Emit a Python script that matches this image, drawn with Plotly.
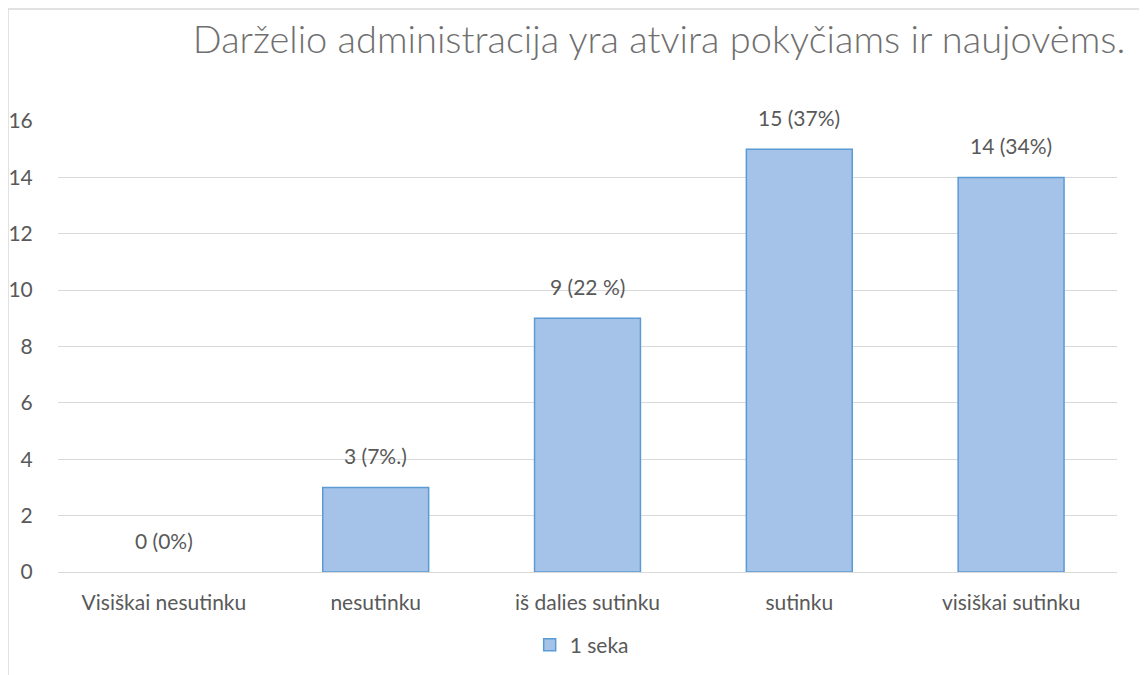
import plotly.graph_objects as go

categories = ["Visiškai nesutinku", "nesutinku", "iš dalies sutinku", "sutinku", "visiškai sutinku"]
values = [0, 3, 9, 15, 14]
labels = ["0 (0%)", "3 (7%.)", "9 (22 %)", "15 (37%)", "14 (34%)"]
series_name = "1 seka"
title_text = "Darželio administracija yra atvira pokyčiams ir naujovėms."
y_ticks = [0, 2, 4, 6, 8, 10, 12, 14, 16]

FONT = "Lato"
GRAY = "#595959"
GRID = "#d9d9d9"
FS = 21

# draw non-empty bars first so the legend swatch takes a bordered bar's style;
# category order on the axis is fixed by categoryarray
order = sorted(range(len(values)), key=lambda i: values[i] == 0)
xs = [categories[i] for i in order]
ys = [values[i] for i in order]

fig = go.Figure()
fig.add_trace(go.Bar(
    x=xs, y=ys, name=series_name,
    marker=dict(color="#a5c3e8",
                line=dict(color="#5b9bd5", width=[0 if v == 0 else 1.5 for v in ys])),
    width=0.5, showlegend=True,
))

for c, v, t in zip(categories, values, labels):
    fig.add_annotation(x=c, y=v, text=t, showarrow=False, yshift=32,
                       font=dict(family=FONT, size=FS, color=GRAY))

fig.update_layout(
    width=1147, height=675,
    margin=dict(l=50, r=38, t=113, b=111),
    paper_bgcolor="white", plot_bgcolor="white",
    font=dict(family=FONT, size=FS, color=GRAY),
    title=dict(text=title_text, x=0.5676, xanchor="center", y=0.953, yanchor="middle",
               font=dict(family=FONT, size=38, color="#6f6f6f", weight=300)),
    bargap=0.5,
    legend=dict(orientation="h", x=0.4945, xanchor="center", y=-0.162, yanchor="middle",
                itemwidth=30,
                font=dict(family=FONT, size=FS, color=GRAY)),
    xaxis=dict(categoryorder="array", categoryarray=categories, automargin=False,
               showgrid=False, showline=False, ticks="outside", ticklen=12,
               tickcolor="rgba(0,0,0,0)", tickfont=dict(family=FONT, size=FS, color=GRAY)),
    yaxis=dict(range=[0, 16], tickvals=y_ticks, automargin=False,
               showgrid=True, gridcolor=GRID, gridwidth=1,
               zeroline=True, zerolinecolor=GRID, zerolinewidth=1, showline=False,
               ticks="outside", ticklen=20, tickcolor="rgba(0,0,0,0)",
               tickfont=dict(family=FONT, size=FS, color=GRAY)),
)

# chart frame
fig.add_shape(type="rect", xref="paper", yref="paper",
              x0=-50 / 1059, x1=1.2, y0=-0.4, y1=1 + 112 / 451,
              line=dict(color=GRID, width=1.5), fillcolor="rgba(0,0,0,0)", layer="below")

fig.write_html("out.html")
